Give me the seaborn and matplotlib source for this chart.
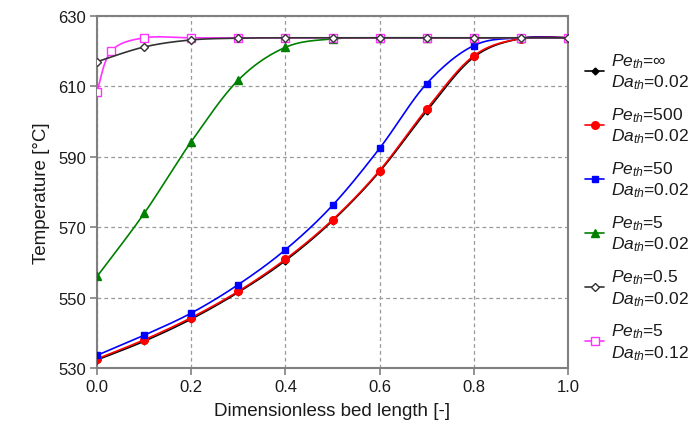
import numpy as np
import matplotlib
matplotlib.use("Agg")
import matplotlib.pyplot as plt
import seaborn as sns
from matplotlib.lines import Line2D

# Temperature profiles along the bed
x = [0.0, 0.1, 0.2, 0.3, 0.4, 0.5, 0.6, 0.7, 0.8, 0.9, 1.0]
x_pink = [0.0, 0.03, 0.1, 0.2, 0.3, 0.4, 0.5, 0.6, 0.7, 0.8, 0.9, 1.0]

t_inf = [532.3, 537.6, 543.9, 551.5, 560.5, 571.8, 585.8, 603.0, 618.3, 623.6, 623.8]
t_500 = [532.6, 538.0, 544.3, 551.8, 560.9, 572.1, 586.1, 603.6, 618.7, 623.6, 623.8]
t_50 = [533.6, 539.3, 545.6, 553.7, 563.6, 576.2, 592.4, 610.8, 621.6, 623.8, 623.8]
t_5 = [556.0, 573.9, 594.3, 611.8, 621.1, 623.5, 623.8, 623.8, 623.8, 623.8, 623.8]
t_05 = [617.0, 621.2, 623.2, 623.7, 623.8, 623.8, 623.8, 623.8, 623.8, 623.8, 623.8]
t_pink = [608.5, 620.0, 623.8, 623.8, 623.8, 623.8, 623.8, 623.8, 623.8, 623.8, 623.8, 623.8]

labels = [
    "$Pe_{th}$=\u221e\n$Da_{th}$=0.02",
    "$Pe_{th}$=500\n$Da_{th}$=0.02",
    "$Pe_{th}$=50\n$Da_{th}$=0.02",
    "$Pe_{th}$=5\n$Da_{th}$=0.02",
    "$Pe_{th}$=0.5\n$Da_{th}$=0.02",
    "$Pe_{th}$=5\n$Da_{th}$=0.12",
]


def smooth(xs, ys, n=25):
    # Excel-style smoothed line (Catmull-Rom bezier) through the points
    p = np.column_stack([xs, ys]).astype(float)
    p = np.vstack([p[0], p, p[-1]])
    out = []
    t = np.linspace(0, 1, n)[:, None]
    for i in range(1, len(p) - 2):
        p0, p1, p2, p3 = p[i - 1], p[i], p[i + 1], p[i + 2]
        c1 = p1 + (p2 - p0) / 6
        c2 = p2 - (p3 - p1) / 6
        seg = ((1 - t) ** 3) * p1 + 3 * ((1 - t) ** 2) * t * c1 + 3 * (1 - t) * t ** 2 * c2 + t ** 3 * p2
        out.append(seg)
    s = np.vstack(out)
    return s[:, 0], s[:, 1]


sns.set_style("white")
plt.rcParams['font.family'] = ['Liberation Sans', 'DejaVu Sans']
plt.rcParams['mathtext.fontset'] = 'custom'
plt.rcParams['mathtext.it'] = 'Liberation Sans:italic'
plt.rcParams['mathtext.rm'] = 'Liberation Sans'
plt.rcParams['text.color'] = '#1a1a1a'
plt.rcParams['axes.labelcolor'] = '#1a1a1a'
plt.rcParams['xtick.color'] = '#808080'
plt.rcParams['ytick.color'] = '#808080'
plt.rcParams['xtick.labelcolor'] = '#1a1a1a'
plt.rcParams['ytick.labelcolor'] = '#1a1a1a'

fig = plt.figure(figsize=(6.91, 4.35), dpi=100)
ax = fig.add_axes([97 / 691, 66 / 435, 471 / 691, 352 / 435])

series = [
    (x, t_inf, "black", "black", "D", 3.5, 3),
    (x, t_500, "red", "red", "o", 5.5, 4),
    (x, t_50, "blue", "blue", "s", 5, 5),
    (x, t_5, "green", "green", "^", 6, 6),
    (x, t_05, "#333333", "white", "D", 4.5, 8),
    (x_pink, t_pink, "#ff33ff", "white", "s", 6, 7),
]

handles = []
for (xs, ys, col, face, mk, ms, z), lab in zip(series, labels):
    sx, sy = smooth(xs, ys)
    sns.lineplot(x=sx, y=sy, ax=ax, color=col, linewidth=1.2, sort=False,
                 estimator=None, zorder=z)
    ax.plot(xs, ys, linestyle='none', marker=mk, markersize=ms,
            markerfacecolor=face, markeredgecolor=col, markeredgewidth=1.0, zorder=z + 0.5)
    handles.append(Line2D([0], [0], color=col, linewidth=1.2, marker=mk, markersize=ms,
                          markerfacecolor=face, markeredgecolor=col))

ax.set_xlim(0, 1.0)
ax.set_ylim(530, 630)
ax.set_xticks(np.arange(0, 1.01, 0.2))
ax.set_yticks(np.arange(530, 631, 20))
ax.set_xticklabels([f"{v:.1f}" for v in np.arange(0, 1.01, 0.2)])
ax.grid(True, color='#999999', linestyle=(0, (3, 2.5)), linewidth=0.9)
for sp in ax.spines.values():
    sp.set_color('#808080')
    sp.set_linewidth(1.5)
ax.tick_params(axis='both', direction='out', length=5, width=1.2,
               bottom=True, left=True, labelsize=12, pad=3)
ax.set_xlabel("Dimensionless bed length [-]", fontsize=13.5, labelpad=6)
ax.set_ylabel("Temperature [\u00b0C]", fontsize=13.5, labelpad=6)

ax.legend(handles=handles, labels=labels, loc='upper left', bbox_to_anchor=(1.0, 0.95),
          frameon=False, fontsize=12.5, handlelength=1.1, handletextpad=0.35,
          labelspacing=0.8, borderaxespad=0.6)

fig.savefig("out.png", dpi=100)
